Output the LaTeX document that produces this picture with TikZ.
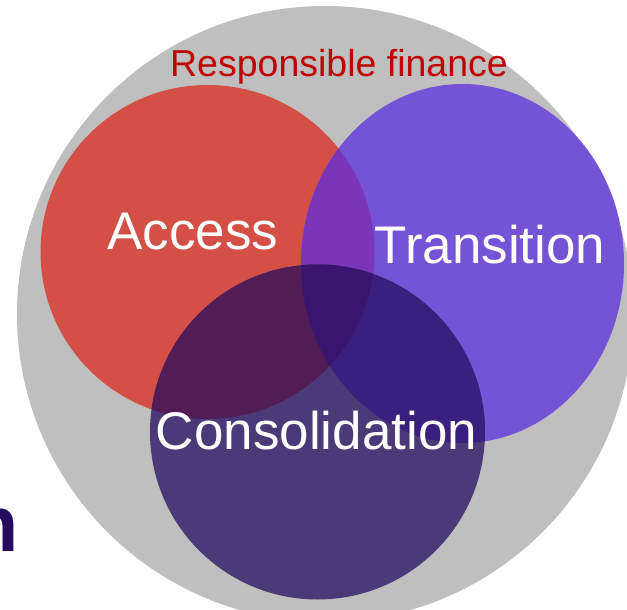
\documentclass[tikz,border=0pt]{standalone}
\usepackage{fontspec}
\setmainfont{Liberation Sans}
\definecolor{grayc}{HTML}{BFBFBF}
\definecolor{redc}{HTML}{D45046}
\definecolor{purc}{HTML}{7553D6}
\definecolor{rpc}{HTML}{7B35B9}
\definecolor{conc}{HTML}{4A3B78}
\definecolor{rcc}{HTML}{521C56}
\definecolor{pcc}{HTML}{3A1F7F}
\definecolor{allc}{HTML}{3A1570}
\definecolor{titlec}{HTML}{C00000}
\definecolor{fragc}{HTML}{230D5D}
\begin{document}
\begin{tikzpicture}[x=1pt,y=-1pt,
  lbl/.style={text=white, inner sep=0pt, anchor=base, font=\fontsize{53}{60}\selectfont}]
\useasboundingbox (0,0) rectangle (627,610);
\clip (0,0) rectangle (627,610);
% outer circle
\fill[grayc] (325,314) circle [radius=308];
% Access
\fill[redc] (207.5,252) circle [radius=167];
% Transition
\fill[purc] (462.5,263.5) ellipse [x radius=161.5, y radius=179.5];
\begin{scope}
  \clip (207.5,252) circle [radius=167];
  \fill[rpc] (462.5,263.5) ellipse [x radius=161.5, y radius=179.5];
\end{scope}
% Consolidation
\fill[conc] (317.5,432) circle [radius=167.5];
\begin{scope}
  \clip (317.5,432) circle [radius=167.5];
  \fill[rcc] (207.5,252) circle [radius=167];
\end{scope}
\begin{scope}
  \clip (317.5,432) circle [radius=167.5];
  \fill[pcc] (462.5,263.5) ellipse [x radius=161.5, y radius=179.5];
\end{scope}
\begin{scope}
  \clip (317.5,432) circle [radius=167.5];
  \clip (207.5,252) circle [radius=167];
  \fill[allc] (462.5,263.5) ellipse [x radius=161.5, y radius=179.5];
\end{scope}
% labels
\node[inner sep=0pt, anchor=base, text=titlec, font=\fontsize{37.5}{44}\selectfont] (title) at (339,77) {Responsible finance};
\node[lbl] (access) at (193,249) {Access};
\node[lbl] (transition) at (490,263) {Transition};
\node[lbl] (consolidation) at (316.5,449) {Consolidation};
\node[inner sep=0pt, anchor=base east, text=fragc, font=\fontsize{79}{90}\bfseries\selectfont] (frag) at (19,551) {n};
\end{tikzpicture}
\end{document}
